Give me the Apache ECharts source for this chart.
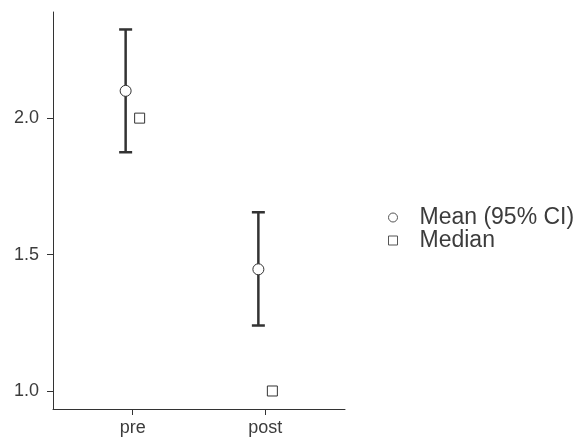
<!DOCTYPE html>
<html>
<head>
<meta charset="utf-8">
<script src="https://cdn.jsdelivr.net/npm/echarts@6/dist/echarts.min.js"></script>
<style>html,body{margin:0;padding:0;background:#fff}#c{width:577px;height:441px}</style>
</head>
<body>
<div id="c"></div>
<script>
var categories = ['pre', 'post'];
var meanValues = [2.10, 1.446];
var ciLower = [1.875, 1.240];
var ciUpper = [2.325, 1.655];
var medianValues = [2.0, 1.0];
var yTickValues = [1.0, 1.5, 2.0];

var FONT = '"Liberation Sans", Arial, sans-serif';
var DARK = '#333333';
var TEXT = '#3c3c3c';
var xPos = categories.map(function (c, i) { return i + 1; });

var meanData = xPos.map(function (x, i) { return [x, meanValues[i]]; });
var medianData = xPos.map(function (x, i) { return [x, medianValues[i]]; });
var ciData = xPos.map(function (x, i) { return [x, ciLower[i], ciUpper[i]]; });

var chart = echarts.init(document.getElementById('c'), null, {renderer: 'canvas'});
chart.setOption({
  animation: false,
  backgroundColor: '#ffffff',
  grid: {left: 53, right: 232, top: 12, bottom: 32, containLabel: false},
  xAxis: {
    type: 'value', min: 0.4, max: 2.6,
    splitLine: {show: false},
    axisLine: {show: true, onZero: false, lineStyle: {color: DARK, width: 1}},
    axisTick: {show: true, length: 6, customValues: xPos, lineStyle: {color: DARK, width: 1}},
    axisLabel: {
      customValues: xPos, margin: 10, color: TEXT, fontSize: 18, fontFamily: FONT,
      formatter: function (v) { return categories[Math.round(v) - 1] || ''; }
    }
  },
  yAxis: {
    type: 'value', min: 0.934, max: 2.389,
    splitLine: {show: false},
    axisLine: {show: true, onZero: false, lineStyle: {color: DARK, width: 1}},
    axisTick: {show: true, length: 6, customValues: yTickValues, lineStyle: {color: DARK, width: 1}},
    axisLabel: {
      customValues: yTickValues, margin: 14, color: TEXT, fontSize: 18, fontFamily: FONT,
      formatter: function (v) { return v.toFixed(1); }
    }
  },
  legend: {
    orient: 'vertical', left: 383, top: 201,
    data: ['Mean (95% CI)', 'Median'],
    itemWidth: 9, itemHeight: 9, itemGap: 0,
    itemStyle: {color: '#ffffff', borderColor: '#555555', borderWidth: 1},
    textStyle: {color: TEXT, fontSize: 23, fontFamily: FONT, lineHeight: 23, padding: [0, 0, 0, 17]}
  },
  series: [
    {
      type: 'custom', name: 'ci', z: 1,
      data: ciData,
      renderItem: function (params, api) {
        var lo = api.coord([api.value(0), api.value(1)]);
        var hi = api.coord([api.value(0), api.value(2)]);
        var x = lo[0] - 7;
        var w = 6.5;
        var st = {stroke: DARK, lineWidth: 2.5};
        return {
          type: 'group',
          children: [
            {type: 'line', shape: {x1: x, y1: lo[1], x2: x, y2: hi[1]}, style: st},
            {type: 'line', shape: {x1: x - w, y1: lo[1], x2: x + w, y2: lo[1]}, style: st},
            {type: 'line', shape: {x1: x - w, y1: hi[1], x2: x + w, y2: hi[1]}, style: st}
          ]
        };
      }
    },
    {
      type: 'scatter', name: 'Mean (95% CI)', z: 3,
      data: meanData, symbol: 'circle', symbolSize: 11, symbolOffset: [-7, 0],
      itemStyle: {color: '#ffffff', borderColor: DARK, borderWidth: 1, opacity: 1}
    },
    {
      type: 'scatter', name: 'Median', z: 3,
      data: medianData, symbol: 'rect', symbolSize: 10, symbolOffset: [7, 0],
      itemStyle: {color: '#ffffff', borderColor: DARK, borderWidth: 1, opacity: 1}
    }
  ]
});
</script>
</body>
</html>
